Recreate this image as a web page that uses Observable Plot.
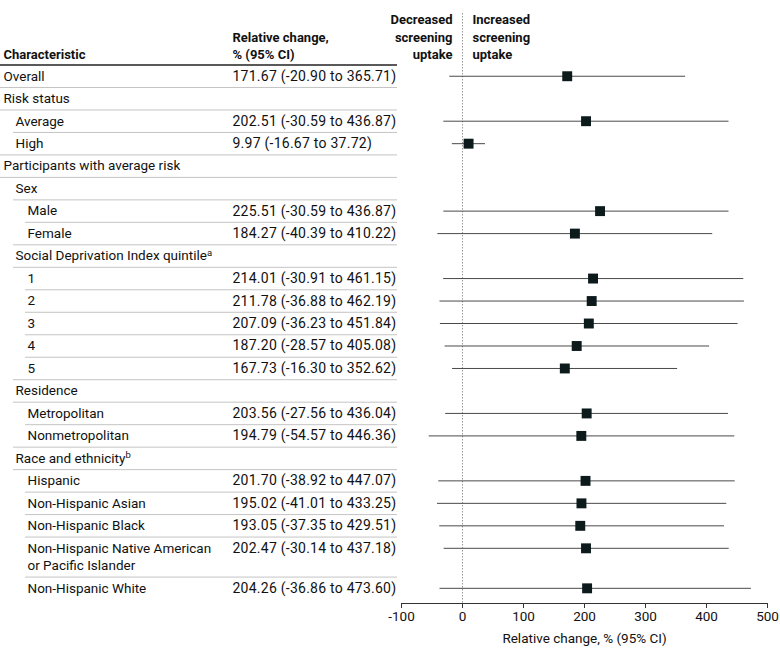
<!DOCTYPE html>
<html><head><meta charset="utf-8">
<script src="https://cdn.jsdelivr.net/npm/d3@7"></script>
<script src="https://cdn.jsdelivr.net/npm/@observablehq/plot@0.6"></script>
<style>
body{margin:0;background:#fff;}
#chart svg{display:block;}
</style>
</head><body><div id="chart"></div>
<script>
// ---- data ----
const characteristics = [
  "Overall", "Risk status", "Average", "High", "Participants with average risk",
  "Sex", "Male", "Female", "Social Deprivation Index quintile",
  "1", "2", "3", "4", "5", "Residence", "Metropolitan", "Nonmetropolitan",
  "Race and ethnicity", "Hispanic", "Non-Hispanic Asian", "Non-Hispanic Black",
  "Non-Hispanic Native American\nor Pacific Islander", "Non-Hispanic White"
];
const levels = [0, 0, 1, 1, 0, 1, 2, 2, 1, 2, 2, 2, 2, 2, 1, 2, 2, 1, 2, 2, 2, 2, 2];
const footnotes = {"Social Deprivation Index quintile": "a", "Race and ethnicity": "b"};
const estimate = [171.67, null, 202.51, 9.97, null, null, 225.51, 184.27, null,
  214.01, 211.78, 207.09, 187.20, 167.73, null, 203.56, 194.79, null,
  201.70, 195.02, 193.05, 202.47, 204.26];
const lower = [-20.90, null, -30.59, -16.67, null, null, -30.59, -40.39, null,
  -30.91, -36.88, -36.23, -28.57, -16.30, null, -27.56, -54.57, null,
  -38.92, -41.01, -37.35, -30.14, -36.86];
const upper = [365.71, null, 436.87, 37.72, null, null, 436.87, 410.22, null,
  461.15, 462.19, 451.84, 405.08, 352.62, null, 436.04, 446.36, null,
  447.07, 433.25, 429.51, 437.18, 473.60];
const xTicks = [-100, 0, 100, 200, 300, 400, 500];
const headerCharacteristic = "Characteristic";
const headerEstimate = "Relative change,\n% (95% CI)";
const headerDecreased = "Decreased\nscreening\nuptake";
const headerIncreased = "Increased\nscreening\nuptake";
const xLabel = "Relative change, % (95% CI)";

// ---- layout ----
const W = 780, H = 656;
const ML = 401, MR = 13, MB = 53;
const UNIT = 22.48;            // pixels per table row
const FS = 13.5;               // label font size
const FS_HEAD = 13;            // header font size
const LINE = 17;               // pixels between wrapped lines
const FONT = "Roboto, 'Noto Sans', sans-serif";
const fmt = v => v.toFixed(2);

let acc = 0;
const rows = characteristics.map((label, i) => {
  const nLines = label.split("\n").length;
  const h = nLines > 1 ? 1.78 : 1;
  const r = {
    i, label, level: levels[i], est: estimate[i], lo: lower[i], hi: upper[i],
    top: acc, center: acc + 0.5, bottom: acc + h,
    ci: estimate[i] == null ? "" : `${fmt(estimate[i])} (${fmt(lower[i])} to ${fmt(upper[i])})`
  };
  acc += h;
  return r;
});
// one entry per printed line of a label
const labelLines = rows.flatMap(r => r.label.split("\n").map((t, k) => ({
  text: t, level: r.level, y: r.center + k * LINE / UNIT
})));
const yMin = -64.5 / UNIT;
const yMax = acc + 0.175;
const yZeroTop = yMin + 13 / UNIT;

const seps = rows.slice(0, -1).map((r, i) => ({y: r.bottom, level: Math.min(r.level, rows[i + 1].level)}));
const sepStart = [0, 13, 25];
const textX = [3, 15, 27];
const tableRight = 397;
const ciX = 232;
const frameRight = W - MR;

const marks = [];
// header rule
marks.push(Plot.ruleY([0], {stroke: "#222", strokeWidth: 1.3, insetLeft: 0 - ML, insetRight: frameRight - tableRight}));
// row separators
for (let l = 0; l < 3; l++) {
  marks.push(Plot.ruleY(seps.filter(s => s.level === l), {
    y: "y", stroke: "#c4c4c4", strokeWidth: 1,
    insetLeft: sepStart[l] - ML, insetRight: frameRight - tableRight
  }));
}
// zero reference
marks.push(Plot.ruleX([0], {y1: yZeroTop, y2: yMax, stroke: "#9a9a9a", strokeDasharray: "1.5,1.5", strokeWidth: 1}));
// header text
const headStyle = {y: () => 0, text: d => d, dy: -6, lineAnchor: "bottom", fontWeight: "bold", fill: "#111", fontSize: FS_HEAD, lineHeight: 17.3 / FS_HEAD};
marks.push(Plot.text([headerCharacteristic], {...headStyle, frameAnchor: "left", dx: textX[0] - ML, textAnchor: "start"}));
marks.push(Plot.text([headerEstimate], {...headStyle, frameAnchor: "left", dx: ciX - ML, textAnchor: "start"}));
marks.push(Plot.text([headerDecreased], {...headStyle, x: () => 0, dx: -10, textAnchor: "end"}));
marks.push(Plot.text([headerIncreased], {...headStyle, x: () => 0, dx: 10, textAnchor: "start"}));
// table labels
for (let l = 0; l < 3; l++) {
  marks.push(Plot.text(labelLines.filter(r => r.level === l), {
    frameAnchor: "left", y: "y", text: "text", dx: textX[l] - ML,
    textAnchor: "start", fill: "#111", fontSize: FS
  }));
}
// CI text
marks.push(Plot.text(rows.filter(r => r.est != null), {
  frameAnchor: "left", y: "center", text: "ci", dx: ciX - ML, textAnchor: "start", fill: "#111",
  fontSize: 14, className: "ci-text"
}));
// CI lines and estimates
const dataRows = rows.filter(r => r.est != null);
marks.push(Plot.ruleY(dataRows, {y: "center", x1: "lo", x2: "hi", stroke: "#4a4a4a", strokeWidth: 1}));
marks.push(Plot.dot(dataRows, {y: "center", x: "est", symbol: "square", r: 5.6, fill: "#0c1a1c", stroke: "none"}));
// axis
marks.push(Plot.ruleY([yMax], {x1: -100, x2: 500, stroke: "#333", strokeWidth: 1}));
marks.push(Plot.axisX({
  ticks: xTicks, tickSize: 5, tickPadding: 3, tickFormat: d => String(d),
  label: xLabel, labelAnchor: "center", labelArrow: "none", labelOffset: 39,
  stroke: "#333", fill: "#111"
}));

const chart = Plot.plot({
  width: W, height: H,
  marginLeft: ML, marginRight: MR, marginTop: 0, marginBottom: MB,
  style: {fontFamily: FONT, fontSize: "13.5px", color: "#111", background: "#fff", overflow: "visible"},
  x: {domain: [-100, 500]},
  y: {type: "linear", domain: [yMin, yMax], range: [0, H - MB], axis: null},
  marks
});

// slightly wider digits in the estimate column
d3.select(chart).selectAll("g.ci-text text, .ci-text text").style("letter-spacing", "0.25px");
// superscript footnote markers
d3.select(chart).selectAll("text").each(function () {
  const t = this.textContent;
  if (footnotes[t]) {
    d3.select(this).append("tspan").attr("dy", "-0.45em").attr("font-size", "0.7em").text(footnotes[t]);
  }
});
document.getElementById("chart").appendChild(chart);
</script>
</body></html>
